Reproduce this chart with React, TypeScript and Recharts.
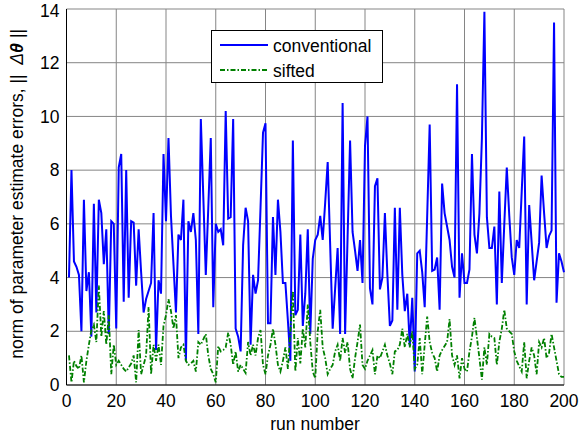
import React from "react"
import {
  LineChart,
  Line,
  XAxis,
  YAxis,
  CartesianGrid,
  Legend,
} from "recharts"

const font = "'Liberation Sans', Arial, sans-serif"
const blue = "#0000ff"
const green = "#008000"
const gridColor = "#858585"
const fs = 17.5

// values, one per run (1..200)
const conventional = [
  4.0, 8.0, 4.6, 4.4, 4.1, 2.0, 6.9, 3.5, 4.2, 1.8,
  6.75, 2.7, 6.9, 6.4, 4.5, 5.8, 1.9, 6.1, 6.0, 2.1,
  8.1, 8.6, 3.1, 8.0, 3.25, 6.1, 6.05, 3.7, 5.8, 4.2,
  2.7, 3.2, 3.5, 3.8, 6.4, 1.3, 3.9, 3.4, 8.6, 6.1,
  9.2, 6.3, 4.5, 2.7, 5.6, 5.4, 6.9, 0.9, 6.1, 5.7,
  6.4, 5.4, 1.9, 9.9, 7.0, 4.1, 6.6, 9.2, 2.9, 6.0,
  5.7, 5.8, 5.2, 10.2, 6.2, 6.25, 9.9, 2.1, 1.8, 1.25,
  5.2, 6.6, 6.1, 1.5, 4.1, 3.4, 3.9, 6.6, 9.4, 9.75,
  2.3, 2.3, 6.25, 4.1, 6.9, 5.7, 3.8, 3.8, 2.4, 0.9,
  9.1, 2.6, 2.8, 5.6, 2.2, 3.4, 5.8, 1.9, 4.7, 5.4,
  5.6, 6.3, 5.4, 6.8, 8.3, 5.2, 2.1, 3.6, 5.1, 1.9,
  10.5, 1.9, 5.5, 9.1, 5.7, 5.0, 4.25, 5.4, 3.8, 8.9,
  10.0, 3.6, 3.0, 7.4, 7.7, 3.56, 4.0, 6.4, 4.1, 2.2,
  2.4, 6.6, 2.8, 6.6, 4.1, 2.75, 3.4, 1.45, 3.25, 0.5,
  4.9, 5.0, 4.2, 2.9, 6.3, 9.7, 4.25, 4.3, 4.75, 2.8,
  7.5, 6.4, 5.9, 5.4, 4.4, 4.0, 11.2, 3.25, 4.9, 3.8,
  3.8, 4.3, 8.6, 5.6, 4.9, 6.4, 9.2, 13.9, 6.25, 5.1,
  5.1, 5.9, 3.0, 7.2, 3.8, 6.0, 8.1, 6.3, 4.75, 4.1,
  5.4, 5.1, 7.2, 9.25, 3.0, 6.7, 5.3, 3.9, 4.6, 5.3,
  7.8, 6.4, 5.1, 5.55, 5.75, 13.5, 3.06, 4.9, 4.6, 4.2,
]

const sifted = [
  1.1, 0.1, 0.9, 0.7, 0.6, 1.1, 0.1, 0.9, 1.5, 2.05,
  2.25, 1.6, 3.7, 1.8, 2.75, 1.5, 2.6, 0.4, 1.5, 0.75,
  0.9, 0.75, 0.6, 0.5, 0.65, 0.8, 1.1, 0.1, 2.05, 0.4,
  0.75, 1.1, 2.9, 0.4, 1.5, 0.9, 1.5, 0.75, 2.2, 2.6,
  3.2, 2.75, 2.1, 2.6, 1.0, 1.4, 1.5, 0.9, 0.75, 0.8,
  0.9, 0.5, 1.6, 1.5, 1.7, 1.9, 1.1, 0.6, 0.4, 0.1,
  1.45, 1.25, 1.3, 1.4, 1.95, 1.5, 0.75, 1.25, 0.5, 0.75,
  0.6, 0.45, 1.6, 1.1, 1.5, 1.1, 1.75, 2.05, 0.75, 0.4,
  1.1, 1.5, 2.1, 1.5, 0.75, 0.5, 0.9, 1.4, 0.6, 2.0,
  3.5, 0.5, 1.75, 0.8, 2.1, 1.4, 3.0, 1.6, 0.5, 0.25,
  2.0, 2.8, 1.4, 1.0, 0.4, 0.6, 0.75, 1.25, 1.5, 0.9,
  1.75, 1.2, 1.6, 0.6, 0.25, 1.0, 1.6, 2.25, 0.75, 0.6,
  0.9, 1.1, 1.3, 0.4, 1.1, 1.0, 1.25, 1.5, 1.1, 0.8,
  0.4, 1.25, 1.3, 1.5, 2.1, 1.4, 1.9, 1.4, 2.0, 0.6,
  0.75, 1.75, 0.4, 1.5, 2.55, 1.6, 1.2, 1.0, 0.5, 1.1,
  1.3, 1.45, 1.6, 2.45, 1.1, 0.75, 1.1, 0.25, 1.0, 0.6,
  0.5, 1.25, 1.8, 2.5, 1.75, 1.0, 0.2, 1.4, 0.75, 1.9,
  1.8, 1.75, 0.75, 1.6, 2.1, 2.8, 2.1, 2.0, 1.9, 1.25,
  0.9, 0.7, 0.5, 1.6, 0.25, 0.9, 1.4, 1.1, 0.4, 1.6,
  1.4, 1.75, 1.0, 1.2, 1.9, 1.4, 0.9, 0.4, 0.3, 0.3,
]

const runs = conventional.map((_, i) => i + 1)
const xTicks = [0, 20, 40, 60, 80, 100, 120, 140, 160, 180, 200]
const yTicks = [0, 2, 4, 6, 8, 10, 12, 14]

const data = runs.map((run, i) => ({
  run,
  conventional: conventional[i],
  sifted: sifted[i],
}))

const tickStyle = { fill: "#000", fontSize: fs, fontFamily: font }

function LegendBox() {
  return (
    <svg width={172} height={53} style={{ display: "block" }}>
      <rect x={0.5} y={0.5} width={171} height={52} fill="#fff" stroke="#000" />
      <line x1={9} y1={15} x2={57} y2={15} stroke={blue} strokeWidth={2} />
      <text x={62} y={21.5} fontSize={fs} fontFamily={font} fill="#000">conventional</text>
      <line x1={9} y1={40} x2={57} y2={40} stroke={green} strokeWidth={2} strokeDasharray="5 2 1.5 2" />
      <text x={62} y={46.5} fontSize={fs} fontFamily={font} fill="#000">sifted</text>
    </svg>
  )
}

function YLabel() {
  return (
    <text
      transform="translate(23, 194) rotate(-90)"
      textAnchor="middle"
      fontSize={fs}
      fontFamily={font}
      fill="#000"
    >
      norm of parameter estimate errors, ||{"\u00a0\u00a0"}
      <tspan fontStyle="italic">Δ</tspan>
      <tspan fontStyle="italic" fontWeight="bold">θ</tspan>
      <tspan fontStyle="italic"> ||</tspan>
    </text>
  )
}

function XLabel() {
  return (
    <text x={315} y={430} textAnchor="middle" fontSize={fs} fontFamily={font} fill="#000">
      run number
    </text>
  )
}

export default function App() {
  return (
    <div style={{ position: "absolute", left: 0, top: 0, background: "#fff" }}>
      <LineChart
        width={587}
        height={436}
        data={data}
        margin={{ top: 9, right: 23, bottom: 21, left: 16.5 }}
      >
        <CartesianGrid stroke={gridColor} strokeWidth={1} />
        <XAxis
          dataKey="run"
          type="number"
          domain={[0, 200]}
          ticks={xTicks}
          tick={tickStyle}
          tickLine={false}
          tickSize={0}
          tickMargin={10}
          height={30}
          axisLine={{ stroke: "#000" }}
          label={<XLabel />}
        />
        <XAxis
          xAxisId="top"
          orientation="top"
          dataKey="run"
          type="number"
          domain={[0, 200]}
          tick={false}
          tickLine={false}
          height={0}
          axisLine={{ stroke: "#000" }}
        />
        <YAxis
          type="number"
          domain={[0, 14]}
          ticks={yTicks}
          tick={tickStyle}
          tickLine={false}
          tickSize={0}
          tickMargin={7}
          width={50}
          axisLine={{ stroke: "#000" }}
          label={<YLabel />}
        />
        <YAxis
          yAxisId="right"
          orientation="right"
          type="number"
          domain={[0, 14]}
          tick={false}
          tickLine={false}
          width={0}
          axisLine={{ stroke: "#000" }}
        />
        <Legend
          layout="vertical"
          align="center"
          verticalAlign="middle"
          content={<LegendBox />}
          wrapperStyle={{ position: "absolute", left: 211, top: 30, width: 172, height: 53 }}
        />
        <Line
          type="linear"
          dataKey="conventional"
          stroke={blue}
          strokeWidth={2}
          dot={false}
          isAnimationActive={false}
        />
        <Line
          type="linear"
          dataKey="sifted"
          stroke={green}
          strokeWidth={1.8}
          strokeDasharray="5 2 1.5 2"
          dot={false}
          isAnimationActive={false}
        />
      </LineChart>
    </div>
  )
}
